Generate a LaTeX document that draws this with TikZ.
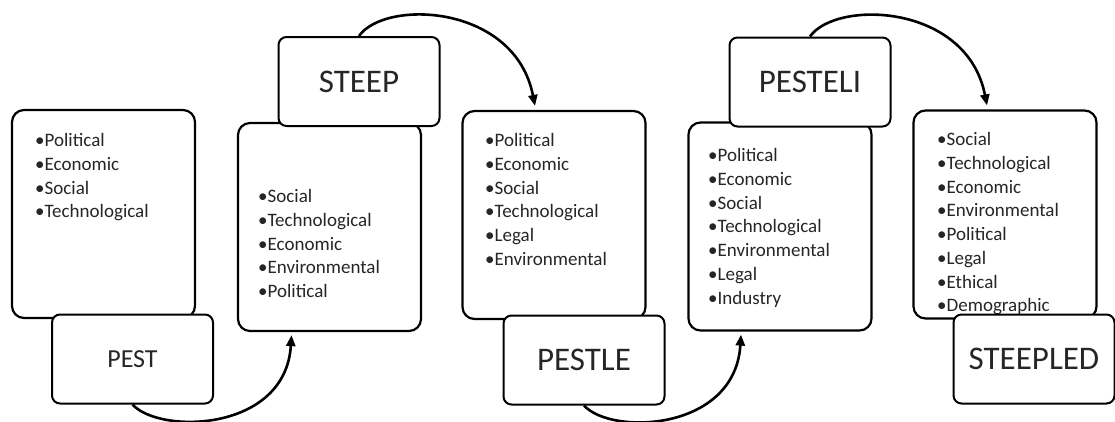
\documentclass[tikz,border=0pt]{standalone}
\usepackage{fontspec}
\setmainfont{Carlito}
\usetikzlibrary{arrows.meta}
\begin{document}
\begin{tikzpicture}[x=1pt,y=-1pt,
  listbox/.style={draw, line width=2.2pt, rounded corners=12pt, fill=white,
    minimum width=183pt, minimum height=208pt, inner sep=0pt},
  namebox/.style={draw, line width=2pt, rounded corners=8pt, fill=white,
    minimum width=161pt, minimum height=89pt, inner sep=0pt, text=black!85,
    font=\fontsize{33}{38}\selectfont},
  items/.style={anchor=north west, inner sep=0pt, align=left,
    font=\fontsize{19}{23.7}\selectfont, text=black!85},
  flow/.style={line width=2.6pt, -{Triangle[length=11pt,width=9pt]}}
]
\useasboundingbox (0,0) rectangle (1115,421);
\fill[white] (0,0) rectangle (1115,421);

% PEST
\node[listbox] (pestL) at (103.5,214) {};
\node[items] (pestI) at (35,133.4) {•Political\\•Economic\\•Social\\•Technological};
\node[namebox, font=\fontsize{26}{30}\selectfont] (pest) at (132.5,359) {PEST};

% STEEP
\node[listbox] (steepL) at (329.5,227) {};
\node[items] (steepI) at (258,189.4) {•Social\\•Technological\\•Economic\\•Environmental\\•Political};
\node[namebox] (steep) at (359,81.5) {STEEP};

% PESTLE
\node[listbox] (pestleL) at (554,215) {};
\node[items] (pestleI) at (485,133.4) {•Political\\•Economic\\•Social\\•Technological\\•Legal\\•Environmental};
\node[namebox] (pestle) at (584,360) {PESTLE};

% PESTELI
\node[listbox] (pesteliL) at (780,226.5) {};
\node[items] (pesteliI) at (708,148.4) {•Political\\•Economic\\•Social\\•Technological\\•Environmental\\•Legal\\•Industry};
\node[namebox] (pesteli) at (810,82) {PESTELI};

% STEEPLED
\node[listbox] (steepledL) at (1005,214.5) {};
\node[items] (steepledI) at (937,132.4) {•Social\\•Technological\\•Economic\\•Environmental\\•Political\\•Legal\\•Ethical\\•Demographic};
\node[namebox] (steepled) at (1034,359) {STEEPLED};

% connecting arcs
\draw[flow] (pest.south) .. controls +(27,30) and +(-6,97) .. ([xshift=-38pt,yshift=-3pt]steepL.south);
\draw[flow] (steep.north) .. controls +(26,-37) and +(-20,-102) .. ([xshift=-19pt,yshift=4pt]pestleL.north);
\draw[flow] (pestle.south) .. controls +(27,30) and +(-6,97) .. ([xshift=-39pt,yshift=-3pt]pesteliL.south);
\draw[flow] (pesteli.north) .. controls +(26,-37) and +(-20,-102) .. ([xshift=-18pt,yshift=4pt]steepledL.north);
\end{tikzpicture}
\end{document}
